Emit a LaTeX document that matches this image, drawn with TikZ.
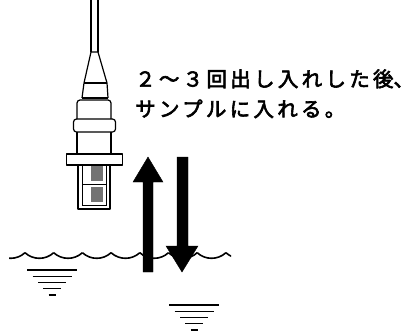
\documentclass[tikz,border=0pt]{standalone}
\usepackage{fontspec}
\newfontfamily\jpfont[LetterSpace=16, FakeBold=3]{Noto Sans CJK JP}
\tikzset{
  probe/.style={line width=1.2pt, line join=round},
  updown/.style={fill=black, draw=black, line width=0.4pt},
  note/.style={anchor=base west, inner sep=0pt, font=\jpfont\fontsize{20.5}{30}\selectfont},
  levelmark/.pic={
    \foreach \w/\dy in {25/0, 19.5/6.5, 14/12.8, 9/18.8, 3.5/25}
      \draw[line width=1.1pt] (-\w,\dy) -- (\w,\dy);
  }
}
\begin{document}
\begin{tikzpicture}[x=1pt, y=-1pt]
    \useasboundingbox (0,0) rectangle (411,333);
    % cable and cone
    \draw[probe] (91,0) -- (91,52) (98,0) -- (98,52);
    \draw[probe] (91,52) -- (98,52) -- (107,83) -- (108,98) (91,52) -- (84,83) -- (82,98);
    \draw[probe] (84,83) -- (107,83);
    % upper body with its ring
    \draw[probe] (82,98) -- (108,98);
    \draw[probe, rounded corners=3pt] (77,119) -- (77,100) -- (111,100) -- (111,119);
    \draw[probe, rounded corners=3pt] (73.5,119) rectangle (115.5,132);
    \draw[probe] (77,132) -- (77,154) (111,132) -- (111,154);
    % flange
    \draw[probe] (66.5,154) rectangle (122.5,165);
    % sensor end
    \draw[probe] (78,165) rectangle (110,209);
    \draw[line width=0.7pt] (82,165) -- (82,205) -- (106,205) -- (106,165);
    \draw[line width=0.7pt] (82,184) -- (106,184);
    \fill[black!55] (91,166) rectangle (103,181);
    \fill[black!55] (91,187) rectangle (103,202);
    % water surface
    \begin{scope}
      \clip (9,240) rectangle (231,270);
      \foreach \i in {-1,...,7}
        \draw[line width=1.6pt] ({25+28.7*\i},252.7) arc[start angle=132.6, end angle=47.4, radius=21.2];
    \end{scope}
    \pic at (52,270) {levelmark};
    \pic at (194,305) {levelmark};
    % in and out
    \filldraw[updown] (143,272) -- (143,182) -- (133,182) -- (148,157) -- (163,182) -- (153,182) -- (153,272) -- cycle;
    \filldraw[updown] (177,157) -- (188,157) -- (188,246) -- (198,246) -- (182,272) -- (166,246) -- (177,246) -- cycle;
    % instruction
    \node[note] (note1) at (135,86.6) {２～３回出し入れした後\rlap{、}};
    \node[note] (note2) at (135,116.6) {サンプルに入れる。};
\end{tikzpicture}
\end{document}
